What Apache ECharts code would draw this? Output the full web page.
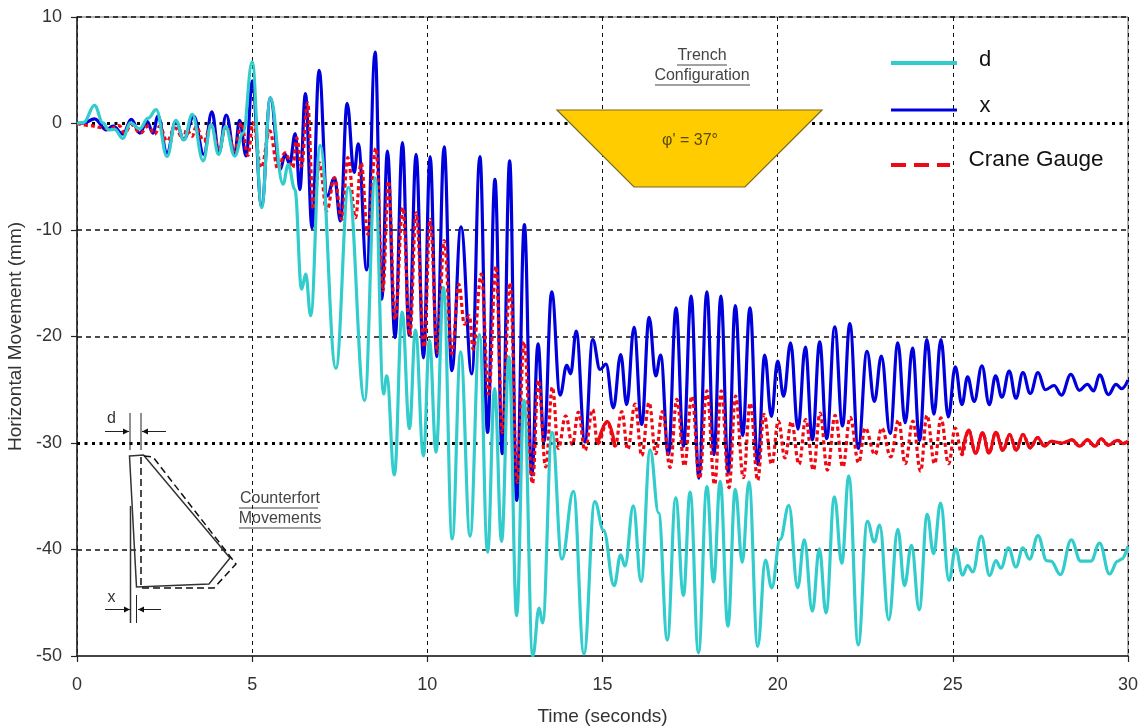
<!DOCTYPE html>
<html>
<head>
<meta charset="utf-8">
<style>html,body{margin:0;padding:0;background:#fff}#c{width:1143px;height:726px}</style>
<script src="https://cdn.jsdelivr.net/npm/echarts@6/dist/echarts.min.js"></script>
</head>
<body>
<div id="c"></div>
<script>
const seriesNames = ['d', 'x', 'Crane Gauge'];
const xTicks = [0, 5, 10, 15, 20, 25, 30];
const yTicks = [-50, -40, -30, -20, -10, 0, 10];
const heavyGridValues = [0, -30];
const lightGridValues = [10, -10, -20, -40];
const craneSolidRanges = [[14.86, 15.36], [25.26, 30]];

const dPoints = [0,0, .19,.1, .5,1.7, .74,.05, .91,-.6, 1.07,-.55, 1.31,-1.4, 1.52,.05, 1.79,-.5, 2.03,.5, 2.26,1.3, 2.57,-3.1, 2.82,.3, 3.05,-1.55, 3.29,.85, 3.6,-3.5, 3.83,-.1, 4.04,-2.9, 4.24,-.3, 4.5,-3.05, 4.74,-.9, 5.0,5.8, 5.27,-7.9, 5.52,2.4, 5.88,-5.7, 6.03,-3.85, 6.22,-6.2, 6.41,-15.55, 6.53,-14.15, 6.67,-18.05, 6.94,-2.05, 7.39,-23, 7.75,-6, 8.21,-26, 8.51,-5.1, 8.75,-25.4, 8.84,-23.7, 9.06,-33, 9.28,-17.7, 9.49,-28.65, 9.66,-19.4, 9.89,-31.2, 10.06,-20.35, 10.25,-30.85, 10.46,-15.4, 10.71,-39, 10.95,-21.45, 11.22,-38.75, 11.49,-19.8, 11.72,-40.25, 11.92,-24.9, 12.12,-39.25, 12.33,-21.9, 12.55,-46.2, 12.76,-26, 13.01,-50, 13.19,-45.5, 13.29,-46.9, 13.56,-29, 13.84,-40.9, 14.17,-34.55, 14.47,-49.8, 14.78,-35.5, 15.03,-38.2, 15.33,-43.4, 15.52,-40.5, 15.64,-41.55, 15.88,-35.9, 16.1,-43, 16.36,-30.65, 16.6,-36.55, 16.85,-48.5, 17.09,-35.15, 17.31,-44.3, 17.5,-34.6, 17.74,-49.7, 17.98,-34.1, 18.17,-43.05, 18.36,-33.6, 18.58,-47.2, 18.79,-34.35, 18.99,-41.2, 19.18,-33.65, 19.43,-49.1, 19.65,-41, 19.83,-43.6, 20.07,-39.05, 20.32,-35.85, 20.57,-43.6, 20.76,-39.1, 20.99,-45.8, 21.19,-39.95, 21.38,-45.95, 21.62,-35.05, 21.83,-41.3, 22.03,-33.1, 22.3,-48.95, 22.56,-37.35, 22.76,-39.3, 22.91,-37.7, 23.17,-46.6, 23.43,-38.1, 23.62,-43.4, 23.82,-39.6, 24.04,-45.65, 24.27,-36.7, 24.45,-40.4, 24.65,-35.65, 24.89,-42.9, 25.08,-39.95, 25.28,-42.4, 25.42,-41.5, 25.57,-42.1, 25.81,-38.75, 26.05,-42.45, 26.23,-41.05, 26.37,-41.75, 26.59,-39.85, 26.8,-41.65, 27,-39.85, 27.19,-40.9, 27.43,-38.7, 27.68,-41.05, 27.8,-41.1, 28.07,-42.35, 28.38,-39.1, 28.65,-41.1, 28.94,-41.1, 29.19,-39.4, 29.47,-42.3, 29.71,-41.1, 29.82,-40.9, 30,-39.7];

const xPoints = [0,0, .2,.05, .5,.44, .84,-.6, 1.03,-.25, 1.31,-1, 1.55,.38, 1.79,-.9, 2,.2, 2.17,-.9, 2.31,.7, 2.57,-2.75, 2.82,.2, 3.05,-1.5, 3.33,.7, 3.62,-2.9, 3.85,1.1, 4.05,-2.75, 4.26,.8, 4.5,-2.9, 4.64,.3, 4.83,-3.05, 5,4, 5.27,-7.75, 5.52,2.4, 5.8,-4.3, 5.94,-2.9, 6.07,-3.8, 6.23,-.95, 6.36,-6.2, 6.52,2.8, 6.71,-9.8, 6.91,5, 7.14,-6.8, 7.35,-5.1, 7.52,-9.15, 7.71,1.9, 7.91,-4.6, 8.03,-1.9, 8.27,-13.75, 8.51,6.7, 8.7,-16.5, 8.86,-2.6, 9.08,-20.1, 9.29,-1.8, 9.48,-19.9, 9.68,-2.9, 9.89,-22, 10.08,-3.1, 10.27,-21.9, 10.48,-2.2, 10.7,-23.2, 10.96,-9.7, 11.27,-23.5, 11.5,-3.1, 11.72,-29, 11.93,-5.25, 12.14,-31, 12.35,-3.5, 12.55,-35.4, 12.77,-9.5, 12.98,-33, 13.16,-20.7, 13.33,-29.9, 13.55,-15.8, 13.79,-25.5, 13.98,-22.7, 14.09,-23.5, 14.25,-19.5, 14.5,-29.9, 14.72,-20.3, 14.93,-23.1, 15.1,-22.6, 15.31,-26.7, 15.52,-21.7, 15.69,-26.4, 15.9,-19.15, 16.12,-28.25, 16.33,-18.2, 16.52,-23.7, 16.66,-21.75, 16.88,-31.1, 17.1,-17.3, 17.31,-30.3, 17.53,-16.2, 17.75,-33.3, 17.98,-15.8, 18.18,-31.1, 18.38,-16.2, 18.59,-32.8, 18.79,-17.1, 19,-29.3, 19.21,-17.3, 19.43,-32, 19.63,-21.75, 19.82,-27.5, 20,-22.3, 20.17,-25.6, 20.37,-20.6, 20.58,-28.7, 20.79,-21, 20.99,-29.7, 21.2,-20.5, 21.4,-29.6, 21.63,-19.1, 21.85,-28.4, 22.06,-18.8, 22.3,-30.5, 22.55,-21.4, 22.76,-26.1, 22.96,-21.85, 23.21,-29.1, 23.43,-20.6, 23.64,-28.1, 23.85,-21.1, 24.05,-29.75, 24.26,-20.3, 24.46,-27.3, 24.66,-20.3, 24.87,-27.55, 25.07,-22.85, 25.26,-26.4, 25.42,-23.8, 25.61,-26.1, 25.83,-22.75, 26.04,-26.4, 26.22,-23.7, 26.4,-25.7, 26.61,-23.25, 26.8,-25.8, 27,-23.4, 27.21,-25.35, 27.43,-23.4, 27.64,-25, 27.89,-24.6, 28.1,-25.5, 28.37,-23.55, 28.61,-25.05, 28.84,-24.5, 29.02,-25.1, 29.19,-23.6, 29.44,-25.45, 29.66,-24.5, 29.82,-24.9, 30,-24.1];

const craneGaugePoints = [0,0, .36,-.2, .74,-.4, .93,-.5, 1.2,-.2, 1.36,-.9, 1.55,-.1, 1.81,-.9, 2.03,-.25, 2.22,-1, 2.36,-.25, 2.57,-1.65, 2.79,-.4, 3.05,-1.5, 3.12,-.55, 3.29,-1.2, 3.4,-.3, 3.62,-1.65, 3.83,-.1, 4.05,-2.3, 4.26,-.25, 4.5,-2.6, 4.69,.05, 4.88,-3, 5.02,.05, 5.26,-4.15, 5.5,-.7, 5.74,-4.3, 5.94,-2.75, 6.16,-4.15, 6.27,-1.35, 6.41,-4, 6.58,1.95, 6.75,-8.05, 6.92,-3.7, 7.13,-8.2, 7.35,-5.1, 7.56,-9, 7.73,-3.2, 7.95,-8.85, 8.11,-3.7, 8.3,-10.4, 8.53,-2.3, 8.73,-15.7, 8.89,-5.4, 9.08,-18.4, 9.3,-7.9, 9.5,-19.9, 9.68,-8.4, 9.91,-21, 10.08,-9, 10.29,-21.5, 10.48,-11, 10.7,-21.6, 10.9,-15.1, 11.06,-18.85, 11.2,-18.05, 11.31,-21.2, 11.54,-14.15, 11.75,-25.4, 11.96,-13.4, 12.14,-29, 12.36,-14.95, 12.57,-33.7, 12.76,-20.5, 13,-33.8, 13.17,-24.1, 13.38,-32.25, 13.57,-24.75, 13.74,-30.5, 13.95,-27.45, 14.14,-30.15, 14.31,-27.1, 14.5,-30.7, 14.72,-26.85, 14.86,-30.1, 15.14,-28, 15.36,-30.3, 15.55,-27.05, 15.72,-30.6, 15.93,-26.35, 16.12,-31.2, 16.33,-26.2, 16.52,-31, 16.71,-27.05, 16.93,-32.3, 17.12,-25.9, 17.34,-32.15, 17.55,-25.6, 17.77,-33.35, 17.98,-25.1, 18.2,-33.9, 18.39,-25.1, 18.61,-34.2, 18.8,-25.6, 19.02,-33.25, 19.22,-26.25, 19.43,-33.5, 19.61,-27.3, 19.83,-32, 20.02,-27.95, 20.21,-31.4, 20.39,-28, 20.61,-32, 20.8,-27.8, 21.02,-32.55, 21.21,-27.2, 21.42,-32.55, 21.64,-27.4, 21.86,-32.25, 22.07,-27.6, 22.31,-31.85, 22.5,-28.6, 22.78,-31.1, 22.97,-28.6, 23.23,-31.3, 23.45,-27.85, 23.64,-31.95, 23.86,-27.95, 24.08,-32.65, 24.26,-27.4, 24.48,-31.95, 24.66,-27.65, 24.88,-31.95, 25.07,-28.6, 25.26,-31.1, 25.45,-28.8, 25.65,-30.95, 25.85,-29.05, 26.03,-30.95, 26.23,-29, 26.43,-30.7, 26.62,-29.2, 26.81,-30.7, 27,-29.2, 27.21,-30.45, 27.42,-29.5, 27.61,-30.3, 27.81,-29.85, 28.13,-30, 28.4,-29.7, 28.62,-30.3, 28.84,-29.7, 29.06,-30.3, 29.23,-29.6, 29.44,-30.2, 29.7,-29.75, 29.86,-30.05, 30,-29.85];

function pairs(flat) {
  const out = [];
  for (let i = 0; i < flat.length; i += 2) out.push([flat[i], flat[i + 1]]);
  return out;
}

const FONT = '"Liberation Sans", Arial, sans-serif';
const TURQ = '#33cccc', BLUE = '#0000dd', RED = '#ee0a14';
const LINE_W = 3.2, SMOOTH = 0.4;

function seg(x1, y1, x2, y2, style) {
  return { type: 'line', shape: { x1, y1, x2, y2 }, style: Object.assign({ stroke: '#222', lineWidth: 1 }, style || {}), z: 20 };
}
function label(text, x, y, size, color, align) {
  return { type: 'text', x, y, style: { text, fontFamily: FONT, fontSize: size, fill: color || '#222', align: align || 'center', verticalAlign: 'middle' }, z: 21 };
}
function arrow(x1, x2, y) {
  const dir = x2 > x1 ? -1 : 1;
  return [seg(x1, y, x2, y),
    { type: 'polygon', shape: { points: [[x2, y], [x2 + dir * 6, y - 3], [x2 + dir * 6, y + 3]] }, style: { fill: '#111' }, z: 21 }];
}

const overlay = [
  { type: 'polygon', shape: { points: [[557, 110], [822, 110], [745, 187], [634, 187]] }, style: { fill: '#ffcc00', stroke: '#7a6a20', lineWidth: 1.2 }, z: 20 },
  label("\u03c6' = 37\u00b0", 690, 141, 16, '#5a4a10'),
  label('Trench', 702, 56, 16, '#444'), seg(677, 65, 727, 65, { stroke: '#444' }),
  label('Configuration', 702, 76, 16, '#444'), seg(655, 85, 750, 85, { stroke: '#444' }),
  seg(891, 63, 957, 63, { stroke: TURQ, lineWidth: 4 }),
  seg(891, 110, 957, 110, { stroke: BLUE, lineWidth: 3 }),
  seg(891, 165, 950, 165, { stroke: RED, lineWidth: 4, lineDash: [15, 8] }),
  label('d', 985, 60, 22, '#111'),
  label('x', 985, 106, 22, '#111'),
  label('Crane Gauge', 1036, 160, 22.5, '#111'),
  { type: 'polygon', shape: { points: [[129.5, 456], [143.5, 455], [230, 558], [209, 584], [136.5, 587]] }, style: { fill: 'none', stroke: '#333', lineWidth: 1.5 }, z: 20 },
  { type: 'polyline', shape: { points: [[144, 456], [153, 457], [236, 564], [214, 588], [141, 588], [141, 456]] }, style: { fill: 'none', stroke: '#111', lineWidth: 1.5, lineDash: [7, 4] }, z: 20 },
  seg(130.5, 506, 130.5, 623, { stroke: '#333', lineWidth: 1.5 }),
  seg(130, 413, 130, 450), seg(141, 413, 141, 450), seg(136.5, 595, 136.5, 623),
  ...arrow(105, 129, 431.5), ...arrow(166, 142, 431.5),
  ...arrow(105, 130, 609.5), ...arrow(161, 138, 609.5),
  label('d', 111.5, 419, 16, '#333'),
  label('x', 111.5, 598, 16, '#333'),
  label('Counterfort', 280, 499, 16, '#444'), seg(239, 508, 318, 508, { stroke: '#444' }),
  label('Movements', 280, 519, 16, '#444'), seg(239, 528, 321, 528, { stroke: '#444' })
];

const gridLines = [
  ...lightGridValues.map(v => ({ yAxis: v, lineStyle: { color: '#111', width: 1.7, type: [5, 4] } })),
  ...heavyGridValues.map(v => ({ yAxis: v, lineStyle: { color: '#000', width: 2.8, type: [3, 4.5] } }))
];

const craneAll = pairs(craneGaugePoints);
const craneSolidSeries = craneSolidRanges.map(([a, b]) => ({
  name: seriesNames[2], type: 'line', data: craneAll.filter(p => p[0] >= a && p[0] <= b),
  showSymbol: false, smooth: SMOOTH, smoothMonotone: 'x',
  lineStyle: { color: RED, width: LINE_W }, itemStyle: { color: RED }, z: 4
}));

const chart = echarts.init(document.getElementById('c'), null, { renderer: 'canvas' });
chart.setOption({
  animation: false,
  backgroundColor: '#fff',
  textStyle: { fontFamily: FONT },
  grid: { left: 77, right: 15, top: 17, bottom: 70, containLabel: false, outerBoundsMode: 'none', show: true, borderColor: '#666', borderWidth: 1, backgroundColor: 'transparent' },
  xAxis: {
    type: 'value', min: xTicks[0], max: xTicks[xTicks.length - 1], interval: 5,
    name: 'Time (seconds)', nameLocation: 'middle', nameGap: 51,
    nameTextStyle: { fontSize: 19, color: '#333', fontFamily: FONT },
    axisLine: { onZero: false, lineStyle: { color: '#222', width: 1.5 } },
    axisTick: { length: 6, lineStyle: { color: '#222', width: 1.2 } },
    axisLabel: { fontSize: 18, color: '#333', margin: 20, fontFamily: FONT, showMaxLabel: true, showMinLabel: true },
    splitLine: { show: true, lineStyle: { color: '#111', width: 1, type: [4, 4] } }
  },
  yAxis: {
    type: 'value', min: yTicks[0], max: yTicks[yTicks.length - 1], interval: 10,
    name: 'Horizontal Movement (mm)', nameLocation: 'middle', nameGap: 50, nameRotate: 90,
    nameTextStyle: { fontSize: 19, color: '#333', fontFamily: FONT },
    axisLine: { show: true, onZero: false, lineStyle: { color: '#222', width: 1.5 } },
    axisTick: { show: true, length: 6, lineStyle: { color: '#222', width: 1.2 } },
    axisLabel: { fontSize: 18, color: '#333', margin: 15, fontFamily: FONT, showMaxLabel: true, showMinLabel: true },
    splitLine: { show: false }
  },
  series: [
    {
      name: seriesNames[1], type: 'line', data: pairs(xPoints), showSymbol: false, smooth: SMOOTH, smoothMonotone: 'x',
      lineStyle: { color: BLUE, width: LINE_W }, itemStyle: { color: BLUE }, z: 3,
      markLine: { silent: true, symbol: 'none', label: { show: false }, z: 1, data: gridLines }
    },
    {
      name: seriesNames[2], type: 'line', data: craneAll, showSymbol: false, smooth: SMOOTH, smoothMonotone: 'x',
      lineStyle: { color: RED, width: LINE_W, type: [4, 3] }, itemStyle: { color: RED }, z: 4
    },
    ...craneSolidSeries,
    {
      name: seriesNames[0], type: 'line', data: pairs(dPoints), showSymbol: false, smooth: SMOOTH, smoothMonotone: 'x',
      lineStyle: { color: TURQ, width: LINE_W }, itemStyle: { color: TURQ }, z: 5
    }
  ],
  graphic: { elements: overlay }
});
</script>
</body>
</html>
